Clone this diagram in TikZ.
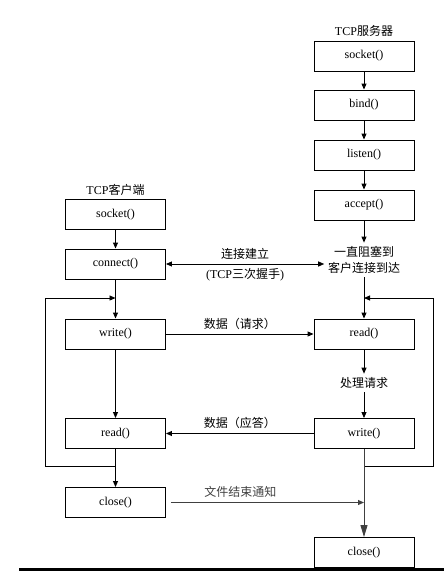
\documentclass[tikz,border=0pt]{standalone}
\usepackage{fontspec}
\setmainfont{Liberation Serif}
\newfontfamily\cjk{Noto Sans CJK SC}
\usetikzlibrary{arrows.meta}

\begin{document}
\begin{tikzpicture}[x=1pt, y=-1pt, line width=.9pt,
        font=\fontsize{12}{16}\selectfont,
        box/.style={draw, minimum width=100pt, minimum height=30pt, inner sep=0pt},
        >={Triangle[length=6pt, width=5pt]}]
    \useasboundingbox (0, 0) rectangle (444, 571);
    % server side
    \node (stitle) at (364, 31) {TCP{\cjk 服务器}};
    \node[box] (ssock) at (364, 56) {socket()};
    \node[box] (bind) at (364, 105) {bind()};
    \node[box] (listen) at (364, 155) {listen()};
    \node[box] (accept) at (364, 205) {accept()};
    \node[align=center] (wait) at (364, 260) {\cjk 一直阻塞到\\\cjk 客户连接到达};
    \node[box] (sread) at (364, 334) {read()};
    \node (proc) at (364, 383) {\cjk 处理请求};
    \node[box] (swrite) at (364, 433.5) {write()};
    \node[box] (sclose) at (364, 552.5) {close()};
    % client side
    \node (ctitle) at (115.5, 190) {TCP{\cjk 客户端}};
    \node[box] (csock) at (115.5, 214.5) {socket()};
    \node[box] (connect) at (115.5, 264) {connect()};
    \node[box] (cwrite) at (115.5, 334) {write()};
    \node[box] (cread) at (115.5, 433.5) {read()};
    \node[box] (cclose) at (115.5, 502.5) {close()};
    \coordinate (lt) at (45, 298);
    \coordinate (lb) at (45, 466);
    \coordinate (rt) at (433, 298);
    \coordinate (rb) at (433, 466);
    % flow
    \draw[->] (ssock)--(bind);
    \draw[->] (bind)--(listen);
    \draw[->] (listen)--(accept);
    \draw[->] (accept)--(wait);
    \draw[->] (wait)--(sread);
    \draw[->] (sread)--(proc);
    \draw[->] (proc)--(swrite);
    \draw[->] (csock)--(connect);
    \draw[->] (connect)--(cwrite);
    \draw[->] (cwrite)--(cread);
    \draw[->] (cread)--(cclose);
    \draw[->] (cread.south |- lb)--(lb)--(lt)--(cwrite.north |- lt);
    \draw[->] (swrite.south |- rb)--(rb)--(rt)--(sread.north |- rt);
    \draw[black!75, -{Triangle[length=12pt, width=7pt]}] (swrite)--(sclose);
    % messages
    \draw[<->] (connect.east)--(connect.east -| wait.west)
        node[midway, above=1pt]{\cjk 连接建立} node[midway, below=1pt]{(TCP{\cjk 三次握手})};
    \draw[->] (cwrite)--(sread) node[midway, above=1pt]{\cjk 数据（请求）};
    \draw[->] (swrite)--(cread) node[midway, above=1pt]{\cjk 数据（应答）};
    \draw[black!75, ->] ([xshift=5pt]cclose.east)--(cclose.east -| sclose.north)
        node[pos=.36, above=1pt]{\cjk 文件结束通知};
    \draw[line width=3pt] (19, 569)--(444, 569);
\end{tikzpicture}
\end{document}
